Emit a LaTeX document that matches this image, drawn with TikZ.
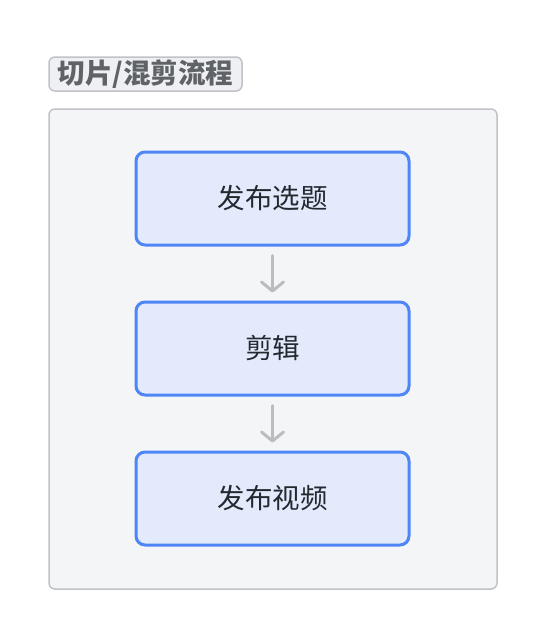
\documentclass[tikz,border=0pt]{standalone}
\usepackage{fontspec}
\newfontfamily\cjk{Noto Sans CJK SC}
\usetikzlibrary{positioning,arrows.meta}
\definecolor{framegray}{HTML}{C0C2C6}
\definecolor{framefill}{HTML}{F4F5F7}
\definecolor{titlefill}{HTML}{EEF0F3}
\definecolor{titletext}{HTML}{5F6368}
\definecolor{stepblue}{HTML}{4F86F7}
\definecolor{stepfill}{HTML}{E2EAFC}
\definecolor{arrowgray}{HTML}{BBBCC0}
\definecolor{steptext}{HTML}{24292F}
\tikzset{
	stepbox/.style={draw=stepblue,fill=stepfill,line width=3pt,rounded corners=9pt,
		minimum width=273pt,minimum height=93pt,font=\cjk\fontsize{27.5pt}{32pt}\selectfont,text=steptext},
	flow/.style={draw=arrowgray,line width=3pt,line cap=round,-{Straight Barb[length=9pt,width=22pt,line cap=round,line join=round]}}
}
\begin{document}
\begin{tikzpicture}[x=1pt,y=-1pt]
	\useasboundingbox (0,0) rectangle (546,638);
	\draw[framegray,fill=framefill,line width=1.5pt,rounded corners=6pt] (49,109) rectangle (497,589);
	\node[draw=framegray,fill=titlefill,line width=1.5pt,rounded corners=6pt,inner sep=0pt,
		minimum width=193pt,minimum height=34pt,font=\cjk\bfseries\fontsize{27.5pt}{32pt}\selectfont,text=titletext]
		(title) at (145.5,74) {切片/混剪流程};
	\node[stepbox] (publish) at (272.5,198.5) {发布选题};
	\node[stepbox] (edit) at (272.5,348.5) {剪辑};
	\node[stepbox] (video) at (272.5,498.5) {发布视频};
	\draw[flow] ([yshift=-9pt]publish.south) -- ([yshift=8pt]edit.north);
	\draw[flow] ([yshift=-9pt]edit.south) -- ([yshift=8pt]video.north);
\end{tikzpicture}
\end{document}
